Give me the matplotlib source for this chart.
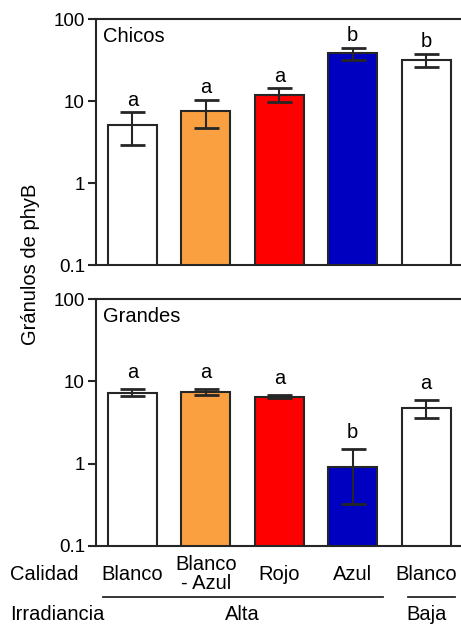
import matplotlib
matplotlib.use("Agg")
import matplotlib.pyplot as plt
import numpy as np

plt.rcParams['font.family'] = ['Liberation Sans', 'DejaVu Sans']

categories = ["Blanco", "Blanco\n- Azul", "Rojo", "Azul", "Blanco"]
colors = ["#ffffff", "#fba040", "#ff0000", "#0000c0", "#ffffff"]

chicos_mean = [5.1, 7.5, 11.9, 38.5, 31.9]
chicos_hi = [7.3, 10.4, 14.3, 44.3, 37.8]
chicos_lo = [2.9, 4.7, 9.6, 31.6, 26.0]
chicos_letters = ["a", "a", "a", "b", "b"]

grandes_mean = [7.3, 7.45, 6.5, 0.91, 4.7]
grandes_hi = [8.2, 8.0, 6.9, 1.51, 5.95]
grandes_lo = [6.6, 6.9, 6.2, 0.32, 3.56]
grandes_letters = ["a", "a", "a", "b", "a"]

yticks = [0.1, 1, 10, 100]
ytick_labels = ["0.1", "1", "10", "100"]

W, H = 461, 626
fig = plt.figure(figsize=(W / 100, H / 100), dpi=100)

left = 96 / W
right = 1.0
ax1 = fig.add_axes([left, 1 - 265 / H, right - left, (265 - 19) / H])
ax2 = fig.add_axes([left, 1 - 545.7 / H, right - left, (545.7 - 299.3) / H])

x = np.arange(len(categories))
edge = "#262626"
fs = 14.5

def draw(ax, mean, hi, lo, letters, title, gap):
    mean = np.array(mean); hi = np.array(hi); lo = np.array(lo)
    ax.bar(x, mean, width=0.667, color=colors, edgecolor=edge, linewidth=1.5,
           bottom=0, zorder=2)
    ax.errorbar(x, mean, yerr=[mean - lo, hi - mean], fmt="none", ecolor=edge,
                elinewidth=1.5, capsize=9, capthick=2.0, zorder=3)
    ax.set_yscale("log")
    ax.set_ylim(0.1, 100)
    ax.set_xlim(-0.497, 4.475)
    ax.set_yticks(yticks)
    ax.set_yticklabels(ytick_labels)
    ax.yaxis.set_minor_locator(matplotlib.ticker.NullLocator())
    ax.tick_params(axis="y", labelsize=13.5, length=6, width=1.5, color=edge, pad=2)
    ax.set_xticks([])
    for s in ["left", "top", "bottom"]:
        ax.spines[s].set_linewidth(1.5)
        ax.spines[s].set_color(edge)
    ax.spines["right"].set_visible(False)
    for xi, h, l in zip(x, hi, letters):
        ax.annotate(l, (xi, h), xytext=(0, gap), textcoords="offset pixels",
                    ha="center", va="baseline", fontsize=fs)
    ax.text(0.02, 0.93, title, transform=ax.transAxes, ha="left", va="center",
            fontsize=fs)

draw(ax1, chicos_mean, chicos_hi, chicos_lo, chicos_letters, "Chicos", 6.5)
draw(ax2, grandes_mean, grandes_hi, grandes_lo, grandes_letters, "Grandes", 11)

fig.text(30 / W, 1 - 264 / H, "Gránulos de phyB", rotation=90, ha="center",
         va="center", fontsize=fs)

# bottom labels
trans = matplotlib.transforms.blended_transform_factory(ax2.transData, fig.transFigure)
fig.text(10 / W, 1 - 575 / H, "Calidad", ha="left", va="center", fontsize=fs)
for xi, c in zip(x, categories):
    fig.text(0, 0, c, transform=trans, ha="center", va="center", fontsize=fs,
             linespacing=1.0)
    fig.texts[-1].set_position((xi, 1 - 574 / H))
fig.text(10 / W, 1 - 615 / H, "Irradiancia", ha="left", va="center", fontsize=fs)

groups = ["Alta", "Baja"]
group_span = [(0, 3), (4, 4)]
fig_lines = [(103, 383), (408, 455)]
for g, (a, b), (p0, p1) in zip(groups, group_span, fig_lines):
    fig.add_artist(matplotlib.lines.Line2D([p0 / W, p1 / W], [1 - 597 / H, 1 - 597 / H],
                                           color=edge, linewidth=1.3))
    fig.text((a + b) / 2, 1 - 615 / H, g, transform=trans, ha="center", va="center",
             fontsize=fs)

fig.savefig("out.png", dpi=100)
